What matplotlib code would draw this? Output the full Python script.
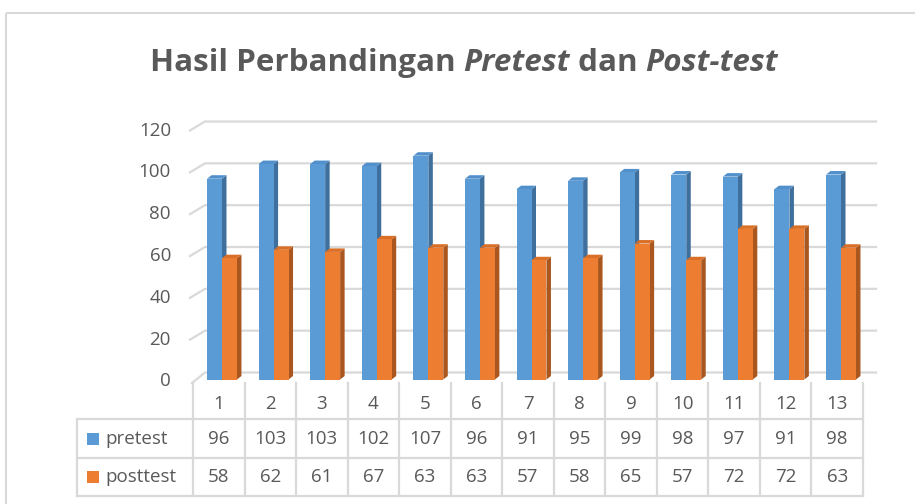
import matplotlib
matplotlib.use("Agg")
import matplotlib.pyplot as plt
from matplotlib.patches import Polygon, Rectangle

categories = ["1", "2", "3", "4", "5", "6", "7", "8", "9", "10", "11", "12", "13"]
pretest = [96, 103, 103, 102, 107, 96, 91, 95, 99, 98, 97, 91, 98]
posttest = [58, 62, 61, 67, 63, 63, 57, 58, 65, 57, 72, 72, 63]
series_names = ["pretest", "posttest"]
yticks = [0, 20, 40, 60, 80, 100, 120]

W, H = 915, 504
FONT = "Open Sans"
TXT = "#595959"
GRID = "#D9D9D9"
BLUE, BLUE_SIDE, BLUE_TOP = "#5B9BD5", "#3F6F9C", "#5290CC"
ORG, ORG_SIDE, ORG_TOP = "#ED7D31", "#A9571F", "#DA6F27"

fig = plt.figure(figsize=(W / 100, H / 100), dpi=100)
fig.patch.set_facecolor("white")

ov = fig.add_axes([0, 0, 1, 1], zorder=0)
ov.set_xlim(0, W)
ov.set_ylim(H, 0)
ov.axis("off")

n = len(categories)
px_left, px_right = 196.2, 866.8
px_zero, px_top = 379.5, 128.5
ax = fig.add_axes([px_left / W, (H - px_zero) / H, (px_right - px_left) / W,
                   (px_zero - px_top) / H], zorder=2)
ax.set_xlim(0.5, n + 0.5)
ax.set_ylim(0, 120)
ax.axis("off")
ax.patch.set_alpha(0)

def to_ov(x, y):
    d = ax.transData.transform((x, y))
    return ov.transData.inverted().transform(d)

ux = ax.transData.transform((1, 0))[0] - ax.transData.transform((0, 0))[0]
uy = ax.transData.transform((0, 1))[1] - ax.transData.transform((0, 0))[1]
dxd = 4.5 / ux
dyd = 3.5 / uy

renderer = fig.canvas.get_renderer()

def fit_text(x, y, s, target_w, base=13.0, **kw):
    t = ov.text(x, y, s, fontsize=base, **kw)
    wd = t.get_window_extent(renderer).width
    t.set_fontsize(base * target_w / wd)
    return t

ov.add_patch(Rectangle((6, 13), 960, 600, fill=False, edgecolor=GRID, lw=1.5))

for v in yticks:
    _, yp = to_ov(1, v)
    y_front = yp + 2
    y_back = yp - 7
    if v == 0:
        ov.plot([192, 205, 876], [383, y_back, y_back], color=GRID, lw=1.6, zorder=1)
    else:
        ov.plot([190, 205, 876], [y_front, y_back, y_back], color=GRID, lw=1.6, zorder=1)
    ov.text(171, y_front, str(v), ha="right", va="center", fontsize=13.5,
            color=TXT, family=FONT)

w = 0.29
def bar3d(x0, x1, v, side, top, z):
    ax.add_patch(Polygon([(x1, 0), (x1 + dxd, dyd), (x1 + dxd, v + dyd), (x1, v)],
                         closed=True, facecolor=side, edgecolor="none", zorder=z))
    ax.add_patch(Polygon([(x0, v), (x1, v), (x1 + dxd, v + dyd), (x0 + dxd, v + dyd)],
                         closed=True, facecolor=top, edgecolor="none", zorder=z))

for i in range(n):
    xc = i + 1
    bar3d(xc - w, xc, pretest[i], BLUE_SIDE, BLUE_TOP, 3)
ax.bar([i + 1 - w / 2 for i in range(n)], pretest, width=w, color=BLUE, zorder=4)
for i in range(n):
    xc = i + 1
    bar3d(xc, xc + w, posttest[i], ORG_SIDE, ORG_TOP, 5)
ax.bar([i + 1 + w / 2 for i in range(n)], posttest, width=w, color=ORG, zorder=6)

col_w = (863 - 193) / n
x_cols = [193 + col_w * k for k in range(n + 1)]
rows_y = [383, 419, 458, 496]
for xv in x_cols:
    ov.plot([xv, xv], [rows_y[0], rows_y[3]], color=GRID, lw=1.6, zorder=1)
ov.plot([77, 77], [rows_y[1], rows_y[3]], color=GRID, lw=1.6, zorder=1)
for yv in rows_y[1:]:
    ov.plot([77, x_cols[-1]], [yv, yv], color=GRID, lw=1.6, zorder=1)

fs = 13.5
for i, c in enumerate(categories):
    xm = (x_cols[i] + x_cols[i + 1]) / 2
    ov.text(xm, (rows_y[0] + rows_y[1]) / 2 + 3, c, ha="center", va="center",
            fontsize=fs, color=TXT, family=FONT)
    ov.text(xm, (rows_y[1] + rows_y[2]) / 2, str(pretest[i]), ha="center",
            va="center", fontsize=fs, color=TXT, family=FONT)
    ov.text(xm, (rows_y[2] + rows_y[3]) / 2, str(posttest[i]), ha="center",
            va="center", fontsize=fs, color=TXT, family=FONT)

for r, (name, col) in enumerate(zip(series_names, [BLUE, ORG])):
    yc = (rows_y[1 + r] + rows_y[2 + r]) / 2
    ov.add_patch(Rectangle((87, yc - 6), 12, 12, facecolor=col, edgecolor="none"))
    ov.text(105, yc, name, ha="left", va="center", fontsize=fs, color=TXT,
            family=FONT)

# title with mixed italics, fitted to reference width
pieces = [("Hasil Perbandingan ", "normal"), ("Pretest", "italic"),
          (" dan ", "normal"), ("Post-test", "italic")]
base = 20.0
texts = [ov.text(0, 71, s, ha="left", va="baseline", fontsize=base,
                 weight="bold", style=st, color=TXT, family=FONT)
         for s, st in pieces]
total = sum(t.get_window_extent(renderer).width for t in texts)
scale = 628 / total
for t in texts:
    t.set_fontsize(base * scale)
widths = [t.get_window_extent(renderer).width for t in texts]
x = 464 - sum(widths) / 2
for t, wd in zip(texts, widths):
    t.set_x(x)
    x += wd

fig.savefig("out.png", dpi=100, facecolor="white")
